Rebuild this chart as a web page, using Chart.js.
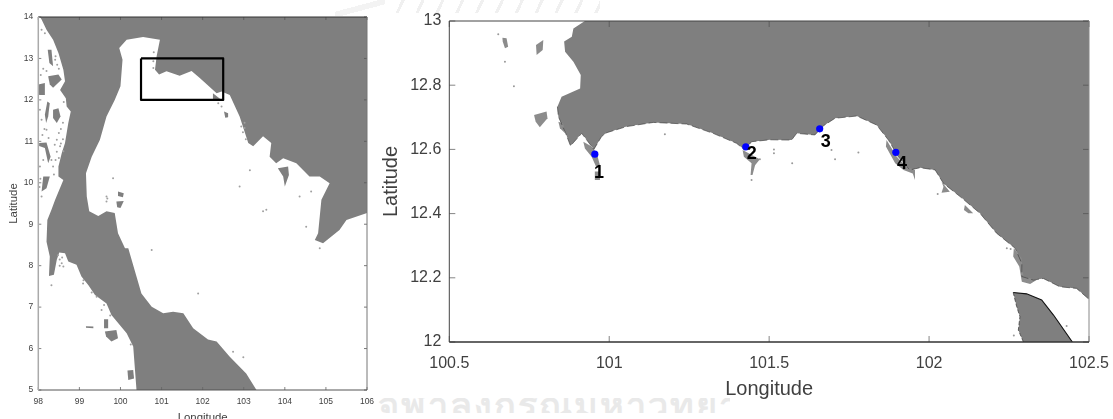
<!DOCTYPE html>
<html><head><meta charset="utf-8">
<script src="https://cdn.jsdelivr.net/npm/chart.js@4/dist/chart.umd.min.js"></script>
<style>
html,body{margin:0;padding:0;background:#fff;width:1113px;height:419px;overflow:hidden}
canvas{position:absolute;top:0}
#wm{position:absolute;left:378px;top:398px;width:352px;height:15px;overflow:hidden;color:#e9e9e9;font:bold 36px "Noto Sans","DejaVu Sans",sans-serif;letter-spacing:2px;white-space:nowrap;line-height:14px}
#emblem{position:absolute;left:385px;top:0;width:215px;height:13px;background:repeating-linear-gradient(115deg,#fff 0 15px,#f0f0f0 15px 18px)}
#emblem2{position:absolute;left:335px;top:0;width:50px;height:16px;background:linear-gradient(165deg,#fff 40%,#f3f3f3 40% 60%,#fff 60%)}
</style></head><body>
<div id="emblem"></div><div id="emblem2"></div>
<div id="wm">จุฬาลงกรณ์มหาวิทยาลัย</div>
<canvas id="overview"></canvas>
<canvas id="detail"></canvas>
<script>
// ---- overview map (left) ----
const overviewLand=[[98.04,14],[98.08,13.94],[98.2,13.69],[98.36,13.45],[98.49,13.13],[98.61,12.73],[98.65,12.45],[98.53,12.24],[98.67,12.04],[98.69,11.84],[98.79,11.72],[98.73,11.44],[98.65,10.96],[98.57,10.71],[98.49,10.39],[98.49,10.15],[98.61,10.07],[98.41,9.59],[98.32,9.35],[98.22,9.1],[98.2,8.58],[98.28,8.22],[98.26,7.75],[98.38,7.78],[98.45,8.14],[98.51,8.32],[98.65,8.3],[98.73,8.1],[98.93,8.02],[99.05,7.74],[99.22,7.53],[99.38,7.29],[99.66,7.09],[99.78,6.81],[100.15,6.37],[100.31,6.05],[100.39,5],[103.31,5],[103.06,5.4],[102.66,5.8],[102.34,6.17],[102.13,6.22],[101.77,6.49],[101.53,6.85],[101.28,6.89],[101.04,6.85],[100.76,7.01],[100.51,7.33],[100.39,7.74],[100.19,8.42],[100.11,8.42],[99.94,8.78],[99.86,9.27],[99.66,9.31],[99.46,9.2],[99.24,9.31],[99.18,9.67],[99.16,10.23],[99.3,10.63],[99.5,11.04],[99.66,11.6],[99.86,12],[100,12.33],[100.05,12.97],[99.97,13.25],[100.15,13.45],[100.55,13.52],[100.96,13.45],[100.88,13.05],[100.84,12.73],[100.94,12.61],[101.12,12.69],[101.44,12.58],[101.73,12.7],[101.93,12.53],[102.34,12.16],[102.46,12.2],[102.66,12.12],[102.9,11.6],[103.11,10.96],[103.23,10.88],[103.47,11.12],[103.67,10.96],[103.63,10.63],[103.79,10.47],[103.96,10.59],[104.28,10.47],[104.6,10.15],[104.85,10.15],[105.09,9.99],[104.89,9.59],[104.81,8.78],[104.73,8.62],[104.93,8.54],[105.33,8.86],[105.5,9.1],[106,9.27],[106,14]];
const overviewIslands=[
 [[102.25,12.16],[102.46,12],[102.25,12]],
 [[102.52,11.72],[102.62,11.68],[102.62,11.58],[102.55,11.57]],
 [[103.83,10.35],[104.08,10.39],[104.1,10.19],[104,9.91],[103.96,10.15]],
 [[99.94,9.79],[100.08,9.75],[100.06,9.65],[99.94,9.68]],
 [[99.9,9.55],[100.08,9.56],[100,9.39],[99.92,9.41]],
 [[99.6,6.71],[99.7,6.71],[99.7,6.49],[99.6,6.49]],
 [[99.62,6.41],[99.9,6.45],[99.94,6.25],[99.78,6.17],[99.65,6.29]],
 [[99.16,6.54],[99.34,6.53],[99.34,6.49],[99.16,6.5]],
 [[100.17,5.47],[100.31,5.48],[100.33,5.28],[100.19,5.24]],
 [[98.24,12.57],[98.49,12.61],[98.57,12.49],[98.36,12.29],[98.28,12.37]],
 [[98,12.37],[98.16,12.41],[98.16,12.12],[98.02,12.12]],
 [[98.22,11.96],[98.28,11.92],[98.24,11.6],[98.19,11.44],[98.16,11.64]],
 [[98.36,11.76],[98.49,11.8],[98.54,11.6],[98.45,11.44],[98.36,11.56]],
 [[98.02,10.96],[98.2,10.97],[98.3,10.63],[98.24,10.47],[98.16,10.84],[98.02,10.89]],
 [[98.12,10.15],[98.28,10.15],[98.2,9.87],[98.08,9.79]],
 [[98.23,13.21],[98.32,13.21],[98.36,12.81],[98.27,12.89]]
];
const overviewSpecks=[[98.08,13.69],[98.16,13.61],[98.41,12.97],[98.04,11.76],[98.08,11.52],[98.2,11.28],[98.45,11.04],[98.53,10.88],[98.61,10.76],[98.36,10.39],[98.04,10.39],[98.12,10.55],[98.08,9.67],[98.57,8.06],[98.61,7.98],[98.32,7.53],[99.09,7.57],[99.42,7.25],[99.54,6.93],[100.76,8.38],[101.89,7.33],[99.82,10.11],[99.66,9.67],[99.66,9.55],[102.74,5.92],[102.99,5.79],[102.94,11.36],[103.02,11.32],[104.36,9.67],[104.64,9.79],[103.47,9.31],[102.9,9.91],[103.15,10.3],[102.38,11.92],[102.46,11.84],[104.85,8.42],[104.52,8.94],[100.81,13.15],[100.8,12.93],[100.8,12.77],
 [98.42,13.05],[98.46,12.85],[98.5,12.75],[98.12,12.75],[98.2,12.7],[98.06,12.6],[98.15,11.3],[98.1,11.15],[98.25,11.08],[98.4,10.92],[98.45,10.75],[98.5,10.6],[98.42,10.55],[98.32,10.55],[98.38,10.2],[98.05,10.1],[98.03,9.9],[98.62,11.95],[98.6,11.45],[98.55,11.3],[98.5,11.2],[98.6,11.05],[98.55,10.95],[98.48,8.25],[98.52,8.15],[98.58,8.2],[98.52,8,],[99.68,9.62],[102.98,11.22],[103.05,11.05],[103.55,9.35],[103.02,11.45],[99.1,7.65],[99.3,7.35],[99.6,7.05],[99.75,6.8],[100.25,6.1]].filter(Boolean);
const studyBox=[[100.5,13],[102.5,13],[102.5,12],[100.5,12]];
const overviewLonTicks=[98,99,100,101,102,103,104,105,106];
const overviewLatTicks=[5,6,7,8,9,10,11,12,13,14];

// ---- detail map (right) ----
const detailLand=[[100.924,13],[100.888,12.977],[100.883,12.951],[100.859,12.936],[100.862,12.904],[100.888,12.873],[100.911,12.832],[100.909,12.79],[100.851,12.764],[100.838,12.733],[100.841,12.702],[100.862,12.655],[100.879,12.611],[100.914,12.65],[100.952,12.6],[100.976,12.64],[100.992,12.652],[101.054,12.671],[101.138,12.684],[101.242,12.679],[101.325,12.65],[101.398,12.619],[101.424,12.598],[101.445,12.624],[101.503,12.63],[101.57,12.629],[101.586,12.65],[101.643,12.645],[101.669,12.673],[101.706,12.697],[101.774,12.704],[101.836,12.676],[101.873,12.629],[101.904,12.577],[101.94,12.536],[101.972,12.543],[102.019,12.536],[102.045,12.494],[102.097,12.453],[102.159,12.401],[102.211,12.339],[102.269,12.292],[102.29,12.245],[102.29,12.204],[102.326,12.193],[102.357,12.198],[102.409,12.172],[102.461,12.167],[102.5,12.133],[102.5,13]];
const detailKoh=[[102.263,12.154],[102.305,12.15],[102.352,12.131],[102.389,12.084],[102.448,12],[102.295,12],[102.279,12.037],[102.284,12.079],[102.274,12.11]];
const detailIslands=[
 [[100.666,12.948],[100.679,12.946],[100.684,12.92],[100.674,12.915],[100.667,12.936]],
 [[100.771,12.925],[100.794,12.941],[100.792,12.91],[100.773,12.894]],
 [[100.765,12.707],[100.804,12.718],[100.807,12.697],[100.783,12.669],[100.77,12.686]],
 [[100.841,12.686],[100.856,12.681],[100.862,12.65],[100.846,12.666]],
 [[100.919,12.624],[100.945,12.609],[100.961,12.588],[100.971,12.551],[100.959,12.546],[100.945,12.577],[100.924,12.603]],
 [[100.955,12.531],[100.971,12.531],[100.971,12.505],[100.955,12.505]],
 [[101.417,12.598],[101.471,12.569],[101.456,12.551],[101.448,12.52],[101.442,12.52],[101.445,12.557],[101.421,12.577]],
 [[102.265,12.292],[102.289,12.261],[102.295,12.204],[102.336,12.193],[102.316,12.181],[102.29,12.188],[102.282,12.235],[102.263,12.266]],
 [[102.039,12.499],[102.065,12.468],[102.039,12.465],[102.045,12.484]],
 [[102.112,12.427],[102.138,12.401],[102.123,12.401],[102.109,12.411]],
 [[101.867,12.629],[101.899,12.577],[101.93,12.546],[101.956,12.536],[101.956,12.505],[101.949,12.525],[101.92,12.536],[101.894,12.557],[101.865,12.609]]
];
const detailSpecks=[[100.674,12.873],[100.702,12.797],[100.653,12.959],[101.174,12.647],[101.445,12.505],[101.515,12.588],[101.515,12.6],[101.572,12.557],[101.706,12.569],[101.695,12.598],[101.779,12.59],[101.471,12.569],[102.027,12.461],[102.243,12.292],[102.255,12.29],[102.43,12.05],[102.265,12.02]];
const stationLon=[100.955,101.427,101.658,101.896];
const stationLat=[12.585,12.608,12.664,12.591];
const stationLabels=["1","2","3","4"];
const labelLon=[100.968,101.446,101.677,101.915];
const labelLat=[12.526,12.586,12.623,12.555];
const detailLonTicks=[100.5,101,101.5,102,102.5];
const detailLatTicks=[12,12.2,12.4,12.6,12.8,13];

const toXY=a=>a.map(p=>({x:p[0],y:p[1]}));
const LAND='#7f7f7f', FONT='"Liberation Sans", Arial, sans-serif', TEXT='#404040';
const shape=(pts,extra)=>Object.assign({data:toXY(pts),showLine:true,fill:'shape',backgroundColor:LAND,borderColor:LAND,borderWidth:0,pointRadius:0,tension:0},extra||{});
const line=(pts,color,w,extra)=>Object.assign({data:toXY(pts),showLine:true,fill:false,borderColor:color,borderWidth:w,pointRadius:0,tension:0},extra||{});

// inward MATLAB style ticks and the axes box, drawn through the chart's scales
const frame=(len,colors,widths)=>({id:'frame',afterDraw(c){
  const {ctx,chartArea:a,scales:{x,y}}=c;ctx.save();
  const seg=(x1,y1,x2,y2,col,w)=>{ctx.strokeStyle=col;ctx.lineWidth=w;ctx.beginPath();ctx.moveTo(x1,y1);ctx.lineTo(x2,y2);ctx.stroke();};
  x.ticks.forEach(t=>{const p=x.getPixelForValue(t.value);seg(p,a.bottom,p,a.bottom-len,'#666',.8);seg(p,a.top,p,a.top+len,'#555',.8);});
  y.ticks.forEach(t=>{const p=y.getPixelForValue(t.value);seg(a.left,p,a.left+len,p,'#666',.8);seg(a.right,p,a.right-len,p,'#555',.8);});
  seg(a.left,a.top,a.right,a.top,colors.top,widths.top);
  seg(a.right,a.top,a.right,a.bottom,colors.right,widths.right);
  seg(a.left,a.bottom,a.right,a.bottom,colors.bottom,widths.bottom);
  seg(a.left,a.top,a.left,a.bottom,colors.left,widths.left);
  ctx.restore();
}});
const stationText={id:'stationText',afterDatasetsDraw(c){
  const {ctx,scales:{x,y}}=c;ctx.save();ctx.fillStyle='#000';ctx.font='bold 18px '+FONT;ctx.textAlign='center';ctx.textBaseline='middle';
  stationLabels.forEach((s,i)=>ctx.fillText(s,x.getPixelForValue(labelLon[i]),y.getPixelForValue(labelLat[i])));
  ctx.restore();
}};
const fmt=v=>String(+(+v).toFixed(2));
const noPad=s=>{s.paddingLeft=s.paddingRight=s.paddingTop=s.paddingBottom=0;};
function makeChart(id,left,w,h,area,cfg){
  const el=document.getElementById(id);el.width=w;el.height=h;el.style.left=left+'px';el.style.width=w+'px';el.style.height=h+'px';
  const axis=(min,max,values,title,opt)=>({type:'linear',min,max,afterBuildTicks:s=>{s.ticks=values.map(v=>({value:v}));},
    grid:{display:false,drawTicks:false},border:{display:false},
    ticks:{autoSkip:false,maxRotation:0,minRotation:0,color:TEXT,font:{family:FONT,size:cfg.tickSize},padding:opt.tickPad,callback:fmt},
    title:{display:true,text:title,color:TEXT,font:{family:FONT,size:cfg.titleSize},padding:opt.titlePad},
    afterFit:s=>{opt.fit(s);noPad(s);}});
  // later entries are painted on top
  return new Chart(el,{type:'scatter',data:{datasets:cfg.datasets.reverse()},plugins:cfg.plugins,options:{
    responsive:false,animation:false,events:[],
    layout:{padding:{left:0,top:area.top,right:w-area.right,bottom:0}},
    plugins:{legend:{display:false},tooltip:{enabled:false}},
    scales:{
      x:axis(cfg.xr[0],cfg.xr[1],cfg.xt,'Longitude',{tickPad:cfg.xTickPad,titlePad:cfg.xTitlePad,fit:s=>{s.height=h-area.bottom;}}),
      y:axis(cfg.yr[0],cfg.yr[1],cfg.yt,'Latitude',{tickPad:cfg.yTickPad,titlePad:cfg.yTitlePad,fit:s=>{s.width=area.left;}})
    }}});
}
makeChart('overview',0,375,430,{left:38.3,right:367,top:17,bottom:390},{
  xr:[98,106],yr:[5,14],xt:overviewLonTicks,yt:overviewLatTicks,tickSize:8.5,titleSize:11.4,
  xTickPad:7,yTickPad:5,xTitlePad:{top:0,bottom:5},yTitlePad:{top:7,bottom:0},
  datasets:[
    shape(overviewLand),
    ...overviewIslands.map(p=>shape(p)),
    {data:toXY(overviewSpecks),pointRadius:1,pointBackgroundColor:'#a0a0a0',pointBorderWidth:0},
    line([...studyBox,studyBox[0]],'#000',2.2,{borderJoinStyle:'round'})
  ],
  plugins:[frame(3,{top:'#333',right:'#777',bottom:'#555',left:'#aaa'},{top:1,right:1,bottom:1,left:1.5})]
});
makeChart('detail',378,735,419,{left:71.3,right:711,top:21,bottom:342},{
  xr:[100.5,102.5],yr:[12,13],xt:detailLonTicks,yt:detailLatTicks,tickSize:16,titleSize:20,
  xTickPad:12,yTickPad:8,xTitlePad:{top:0,bottom:18},yTitlePad:{top:1,bottom:0},
  datasets:[
    shape(detailLand),
    shape(detailKoh),
    ...detailIslands.map(p=>shape(p,{backgroundColor:'#8c8c8c'})),
    line(detailLand.slice(9,-1),'#333',.6,{borderDash:[8,3]}),
    line(detailKoh.slice(0,5),'#111',1.1),
    line([...detailKoh.slice(5),detailKoh[0]],'#333',.7,{borderDash:[4,2]}),
    {data:toXY(detailSpecks),pointRadius:1,pointBackgroundColor:'#999',pointBorderWidth:0},
    {data:stationLon.map((x,i)=>({x,y:stationLat[i]})),pointRadius:3.6,pointBackgroundColor:'#0000ff',pointBorderWidth:0}
  ],
  plugins:[stationText,frame(6,{top:'#444',right:'#888',bottom:'#333',left:'#444'},{top:1,right:1,bottom:1.4,left:1})]
});
</script>
</body></html>
